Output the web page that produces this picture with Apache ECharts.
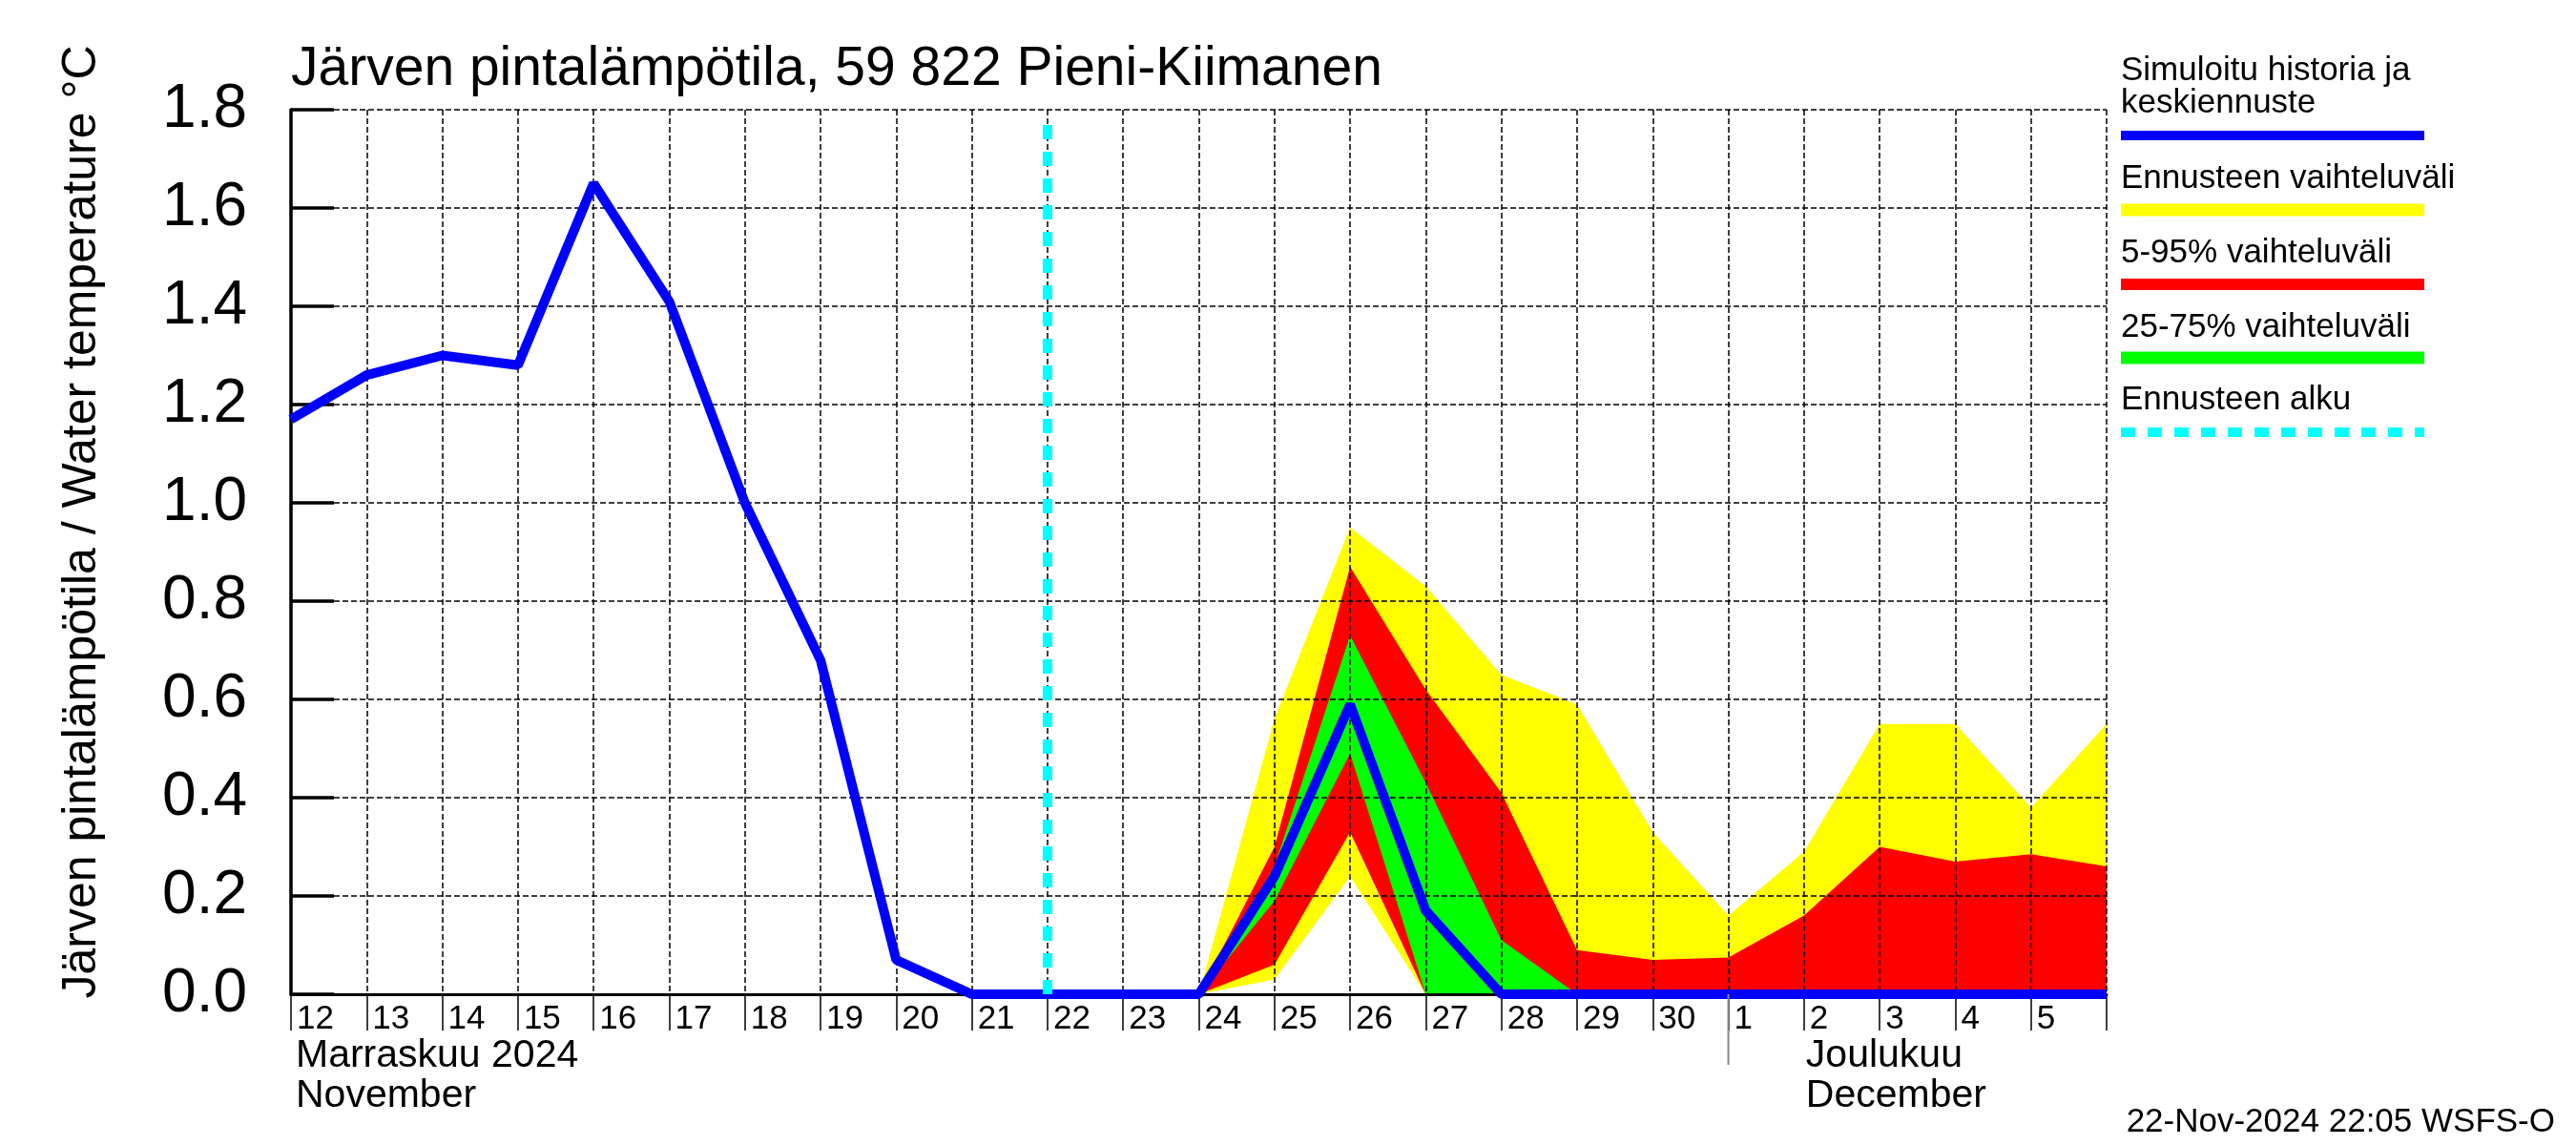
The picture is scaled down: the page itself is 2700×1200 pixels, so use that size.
<!DOCTYPE html>
<html><head><meta charset="utf-8">
<script src="https://cdn.jsdelivr.net/npm/echarts@6/dist/echarts.min.js"></script>
<style>html,body{margin:0;padding:0;background:#fff}#c{width:2700px;height:1200px}</style>
</head><body><div id="c"></div>
<script>
// ---- data ----
const categories = ['Nov 12','Nov 13','Nov 14','Nov 15','Nov 16','Nov 17','Nov 18','Nov 19','Nov 20','Nov 21',
  'Nov 22','Nov 23','Nov 24','Nov 25','Nov 26','Nov 27','Nov 28','Nov 29','Nov 30',
  'Dec 1','Dec 2','Dec 3','Dec 4','Dec 5','Dec 6'];
const dayLabels = ['12','13','14','15','16','17','18','19','20','21','22','23','24','25','26','27','28','29','30',
  '1','2','3','4','5','6'];
// simulated history Nov 12 - Nov 21
const history = [1.17, 1.26, 1.30, 1.28, 1.65, 1.41, 1.00, 0.68, 0.07, 0.00];
// median forecast Nov 22 - Dec 6
const median = [0, 0, 0, 0.24, 0.59, 0.17, 0, 0, 0, 0, 0, 0, 0, 0, 0];
// forecast bands Nov 24 - Dec 6
const bandStart = 'Nov 24';
const maxAll = [0, 0.56, 0.95, 0.83, 0.65, 0.59, 0.33, 0.16, 0.29, 0.55, 0.55, 0.38, 0.55];
const minAll = [0, 0.03, 0.24, 0, 0, 0, 0, 0, 0, 0, 0, 0, 0];
const p95    = [0, 0.30, 0.87, 0.62, 0.41, 0.09, 0.07, 0.075, 0.16, 0.30, 0.27, 0.285, 0.26];
const p5     = [0, 0.06, 0.33, 0, 0, 0, 0, 0, 0, 0, 0, 0, 0];
const p75    = [0, 0.26, 0.73, 0.43, 0.11, 0, 0, 0, 0, 0, 0, 0, 0];
const p25    = [0, 0.19, 0.49, 0, 0, 0, 0, 0, 0, 0, 0, 0, 0];
const forecastStart = 'Nov 22';
const forecastLineTop = 1.78;
const yMin = 0, yMax = 1.8, yStep = 0.2;
const titleText = 'Järven pintalämpötila, 59 822 Pieni-Kiimanen';
const yName = 'Järven pintalämpötila / Water temperature °C';
const monthLabels = [
  {at: 'Nov 12', fi: 'Marraskuu 2024', en: 'November'},
  {at: 'Dec 2', fi: 'Joulukuu', en: 'December'}
];
const monthDivider = 'Dec 1';
const legendItems = [
  {text: ['Simuloitu historia ja', 'keskiennuste'], color: '#0000ff', dash: null},
  {text: ['Ennusteen vaihteluväli'], color: '#ffff00', dash: null},
  {text: ['5-95% vaihteluväli'], color: '#ff0000', dash: null},
  {text: ['25-75% vaihteluväli'], color: '#00ff00', dash: null},
  {text: ['Ennusteen alku'], color: '#00ffff', dash: [15, 13]}
];
const stamp = '22-Nov-2024 22:05 WSFS-O';

// ---- build ----
const FF = '"Liberation Sans", Arial, Helvetica, sans-serif';
const off = categories.indexOf(bandStart);
const pad = arr => categories.map((c, i) => (i < off ? null : arr[i - off]));
const diff = (u, l) => pad(u.map((v, i) => +(v - l[i]).toFixed(4)));

function band(stack, lower, upper, color) {
  return [
    {type: 'line', stack, data: pad(lower), showSymbol: false, silent: true, z: 2,
     lineStyle: {width: 0, opacity: 0}},
    {type: 'line', stack, data: diff(upper, lower), showSymbol: false, silent: true, z: 2,
     lineStyle: {width: 0, opacity: 0}, areaStyle: {color, opacity: 1}}
  ];
}

const chart = echarts.init(document.getElementById('c'), null, {renderer: 'canvas'});
const fIdx = categories.indexOf(forecastStart);

const option = {
  animation: false,
  backgroundColor: '#fff',
  textStyle: {fontFamily: FF},
  grid: {left: 305, right: 492, top: 115, bottom: 158, containLabel: false, outerBoundsMode: 'none'},
  xAxis: {
    type: 'category', data: categories, boundaryGap: false, z: 3,
    axisLine: {lineStyle: {color: '#000', width: 3}},
    axisTick: {show: true, inside: false, length: 38, interval: 0, lineStyle: {color: '#000', width: 1.5}},
    axisLabel: {interval: 0, formatter: (v, i) => (i === categories.length - 1 ? '' : dayLabels[i]),
      align: 'left', padding: [0, 0, 0, 6], margin: 9, fontSize: 35, lineHeight: 35,
      fontFamily: FF, color: '#000'},
    splitLine: {show: true, interval: 0, lineStyle: {color: '#000', type: [6, 3], width: 1.5}}
  },
  yAxis: {
    type: 'value', min: yMin, max: yMax, interval: yStep, z: 3,
    axisLine: {show: true, lineStyle: {color: '#000', width: 3.5}},
    axisTick: {show: true, inside: true, length: 45, lineStyle: {color: '#000', width: 3.5}},
    axisLabel: {formatter: v => v.toFixed(1), fontSize: 64, margin: 46, color: '#000', fontFamily: FF},
    splitLine: {show: true, lineStyle: {color: '#000', type: [6, 3], width: 1.5}}
  },
  series: [
    ...band('all', minAll, maxAll, '#ffff00'),
    ...band('p90', p5, p95, '#ff0000'),
    ...band('p50', p25, p75, '#00ff00'),
    {type: 'line', data: history.concat(median), showSymbol: false, silent: true, z: 4,
     lineStyle: {color: '#0000ff', width: 10}},
    {type: 'line', data: [[fIdx, yMin], [fIdx, forecastLineTop]], showSymbol: false, silent: true, z: 4,
     lineStyle: {color: '#00ffff', width: 10, type: [15, 13]}}
  ]
};
chart.setOption(option);

// ---- decorations: texts and legend ----
const g = [];
g.push({type: 'text', x: 305, y: 73, z: 10,
  style: {text: titleText, font: '57px ' + FF, fill: '#000', align: 'left', verticalAlign: 'middle'}});
g.push({type: 'text', x: 86, y: 547, rotation: Math.PI / 2, z: 10,
  style: {text: yName, font: '50px ' + FF, fill: '#000', align: 'center', verticalAlign: 'middle'}});

const lx0 = 2223, lx1 = 2541;
const legendLayout = [
  {texts: [74, 108], line: 142, w: 10},
  {texts: [187], line: 220, w: 13},
  {texts: [265], line: 298, w: 12},
  {texts: [343], line: 375, w: 13},
  {texts: [419], line: 453, w: 10}
];
legendItems.forEach((it, k) => {
  const L = legendLayout[k];
  it.text.forEach((t, j) => g.push({type: 'text', x: lx0, y: L.texts[j], z: 10,
    style: {text: t, font: '35px ' + FF, fill: '#000', align: 'left', verticalAlign: 'middle'}}));
  g.push({type: 'line', z: 10, shape: {x1: lx0, y1: L.line, x2: lx1, y2: L.line},
    style: {stroke: it.color, lineWidth: L.w, lineDash: it.dash || null}});
});

g.push({type: 'text', x: 2678, y: 1176, z: 10,
  style: {text: stamp, font: '35px ' + FF, fill: '#000', align: 'right', verticalAlign: 'middle'}});

const xDiv = chart.convertToPixel({xAxisIndex: 0}, monthDivider);
const yZero = chart.convertToPixel({yAxisIndex: 0}, 0);
g.push({type: 'line', z: 10, shape: {x1: xDiv, y1: yZero, x2: xDiv, y2: yZero + 74},
  style: {stroke: '#888', lineWidth: 2}});
const monthOffsets = [5, 2];
monthLabels.forEach((m, k) => {
  const x = chart.convertToPixel({xAxisIndex: 0}, m.at) + monthOffsets[k];
  g.push({type: 'text', x, y: 1107, z: 10,
    style: {text: m.fi, font: '41px ' + FF, fill: '#000', align: 'left', verticalAlign: 'middle'}});
  g.push({type: 'text', x, y: 1149, z: 10,
    style: {text: m.en, font: '41px ' + FF, fill: '#000', align: 'left', verticalAlign: 'middle'}});
});
chart.setOption({graphic: {elements: g}});
</script>
</body></html>
